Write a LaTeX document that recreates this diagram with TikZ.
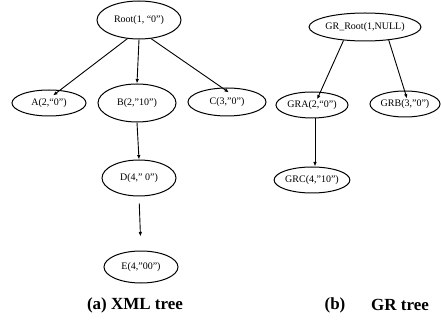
\documentclass[tikz,border=0pt]{standalone}
\usepackage{fontspec}
\setmainfont{Liberation Serif}[BoldFont={Liberation Serif Bold}]
\newfontfamily\captionface{Liberation Serif Bold}
\usetikzlibrary{shapes.geometric,arrows.meta}
\begin{document}
\begin{tikzpicture}[x=1pt,y=-1pt,
  treenode/.style={draw,ellipse,line width=1pt,inner sep=0pt,font=\fontsize{10}{12}\selectfont},
  link/.style={line width=0.9pt,-{Latex[length=4.5pt,width=3.5pt]}},
  caption/.style={font=\captionface\fontsize{17}{20}\selectfont}]
\useasboundingbox (0,0) rectangle (441,320);

% (a) XML tree
\node[treenode,minimum width=84pt,minimum height=38pt] (root) at (139,20) {Root(1, “0”)};
\node[treenode,minimum width=74pt,minimum height=26pt] (a) at (49,103) {A(2,“0”)};
\node[treenode,minimum width=78pt,minimum height=38pt] (b) at (137,103) {B(2,”10”)};
\node[treenode,minimum width=78pt,minimum height=28pt] (c) at (227,102) {C(3,”0”)};
\node[treenode,minimum width=74pt,minimum height=36pt] (d) at (139,178) {D(4,” 0”)};
\node[treenode,minimum width=74pt,minimum height=32pt] (e) at (141,267) {E(4,”00”)};

\draw[link] (root.238) -- ([xshift=4pt,yshift=-6pt]a.north);
\draw[link] (root.south) -- (b.north);
\draw[link] (root.303) -- ([xshift=2pt,yshift=-5pt]c.north);
\draw[link] (b.south) -- (d.north);
\draw[link,shorten <=7pt,shorten >=14pt] (d.south) -- (e.north);

% (b) GR tree
\node[treenode,minimum width=100pt,minimum height=28pt] (gr) at (365,27) {GR\_Root(1,NULL)};
\node[treenode,minimum width=72pt,minimum height=26pt] (gra) at (312,105) {GRA(2,“0”)};
\node[treenode,minimum width=70pt,minimum height=26pt] (grb) at (405,104) {GRB(3,”0”)};
\node[treenode,minimum width=70pt,minimum height=26pt] (grc) at (312,180) {GRC(4,”10”)};

\draw[link] (gr.212) -- ([xshift=5pt,yshift=-8pt]gra.north);
\draw[link] (gr.331) -- ([xshift=2pt,yshift=-8pt]grb.north);
\draw[link] ([xshift=3pt]gra.south) -- ([xshift=3pt]grc.north);

% captions
\node[caption] (capa) at (135,305) {(a) XML tree};
\node[caption] (capb) at (335,305) {(b)};
\node[caption] (capc) at (400,305) {GR tree};
\end{tikzpicture}
\end{document}
